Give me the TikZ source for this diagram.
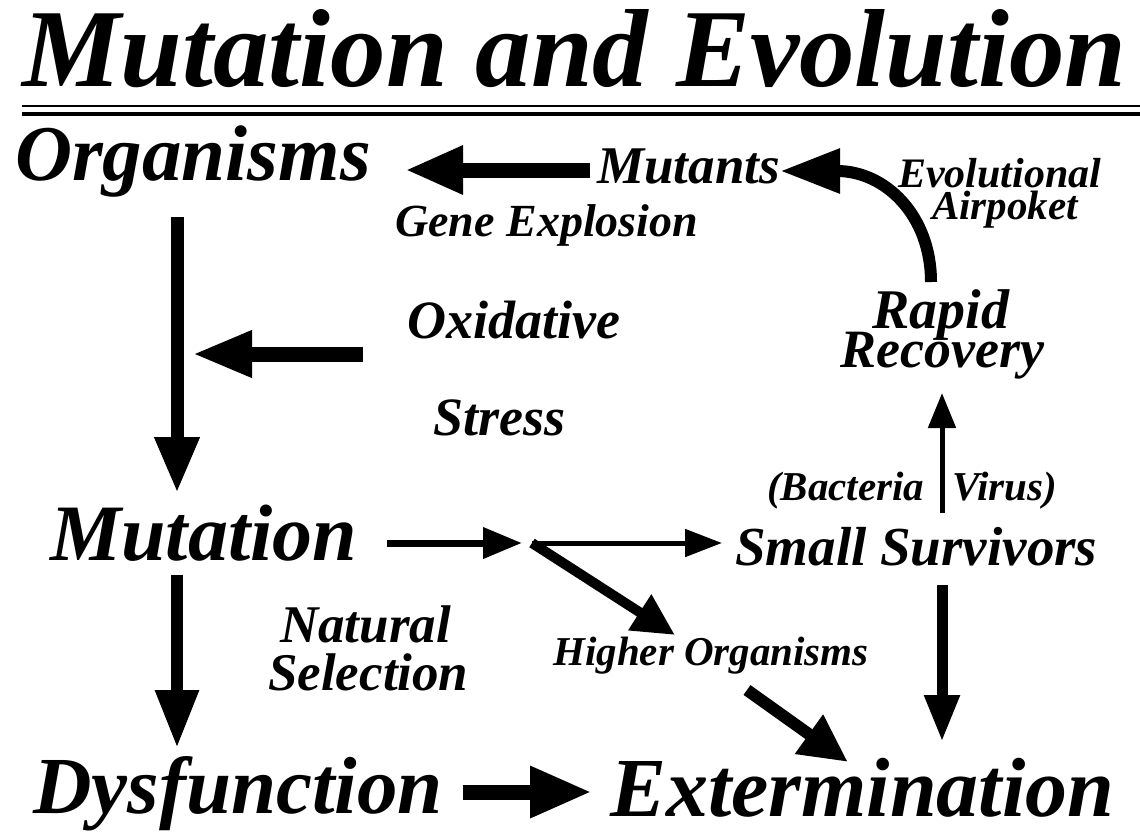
\documentclass[tikz,border=0pt]{standalone}
\usepackage{fontspec}
\setmainfont{Liberation Serif}
\usetikzlibrary{arrows.meta}
\newcommand{\fs}[1]{\fontsize{#1}{#1}\selectfont\bfseries\itshape}

\begin{document}
\begin{tikzpicture}[x=1pt, y=-1pt,
    word/.style={inner sep=0pt, anchor=base west},
    rule/.style={line cap=butt}]
  \useasboundingbox (0,0) rectangle (1140,831);

  % Title and double rule
  \node[word, font=\fs{111}] (title) at (22,86) {Mutation and Evolution};
  \draw[rule, line width=2.5pt] (22,106) -- (1140,106);
  \draw[rule, line width=4.5pt] (22,114) -- (1140,114);

  % Words
  \node[word, font=\fs{79}] (org) at (15,180) {Organisms};
  \node[word, font=\fs{53}] (mutants) at (597,183) {Mutants};
  \node[word, font=\fs{46}] (gene) at (395,236) {Gene Explosion};
  \node[word, font=\fs{42}] (evo) at (898,187) {Evolutional};
  \node[word, font=\fs{41}] (air) at (932,219) {Airpoket};
  \node[word, font=\fs{56}] (rapid) at (872,328) {Rapid};
  \node[word, font=\fs{54}] (recov) at (840,367) {Recovery};
  \node[word, font=\fs{54}] (oxi) at (407,338) {Oxidative};
  \node[word, font=\fs{54}] (stress) at (433,435) {Stress};
  \node[word, font=\fs{41}] (bact) at (767,500) {(Bacteria};
  \node[word, font=\fs{41}] (virus) at (952,500) {Virus)};
  \node[word, font=\fs{80}] (mutation) at (50,560) {Mutation};
  \node[word, font=\fs{55}] (small) at (735,565) {Small Survivors};
  \node[word, font=\fs{53}] (nat) at (280,642) {Natural};
  \node[word, font=\fs{53}] (sel) at (268,690) {Selection};
  \node[word, font=\fs{41}] (higher) at (553,665) {Higher Organisms};
  \node[word, font=\fs{81}] (dys) at (33,813) {Dysfunction};
  \node[word, font=\fs{84}] (ext) at (610,816) {Extermination};

  % Arrows
  \coordinate (j) at (532,543);
  \draw[line width=13pt, -{Triangle[length=56pt, width=42pt]}] (177,217) -- (177,493);
  \draw[line width=12pt, -{Triangle[length=58pt, width=41pt]}] (177,575) -- (177,748);
  \draw[line width=15pt, -{Triangle[length=60pt, width=43pt]}] (363,354) -- (192,354);
  \draw[line width=15pt, -{Triangle[length=58pt, width=45pt]}] (590,170) -- (405,170);
  \draw[line width=12pt, -{Triangle[length=60pt, width=42pt]}] (931,282) .. controls (931,215) and (885,171) .. (780,171);
  \draw[line width=7pt, -{Triangle[length=39pt, width=30pt]}] (387,543) -- (522,543);
  \draw[line width=5pt, -{Triangle[length=37pt, width=27pt]}] (j) -- (722,543);
  \draw[line width=10pt, -{Triangle[length=42pt, width=40pt]}] (j) -- (675,635);
  \draw[line width=12pt, -{Triangle[length=48pt, width=45pt]}] (747,690) -- (848,762);
  \draw[line width=11pt, -{Triangle[length=47pt, width=33pt]}] (942,585) -- (942,742);
  \draw[line width=5pt, -{Triangle[length=35pt, width=27pt]}] (942,513) -- (942,393);
  \draw[line width=15pt, -{Triangle[length=62pt, width=48pt]}] (463,792) -- (592,792);
\end{tikzpicture}
\end{document}
